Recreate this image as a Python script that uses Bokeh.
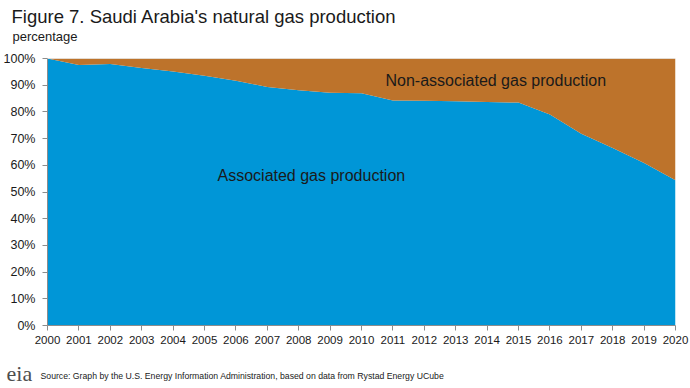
from bokeh.plotting import figure
from bokeh.models import (ColumnDataSource, Label, FixedTicker, PrintfTickFormatter,
                          Range1d, Span)
from bokeh.embed import file_html
from bokeh.resources import INLINE

# ---- data ----
years = [2000, 2001, 2002, 2003, 2004, 2005, 2006, 2007, 2008, 2009, 2010,
         2011, 2012, 2013, 2014, 2015, 2016, 2017, 2018, 2019, 2020]
associated = [100.0, 97.6, 97.9, 96.4, 95.1, 93.5, 91.7, 89.3, 88.1, 87.2, 87.0,
              84.3, 84.2, 84.0, 83.7, 83.5, 79.0, 71.8, 66.5, 60.9, 54.4]
non_associated = [0.0, 2.4, 2.1, 3.6, 4.9, 6.5, 8.3, 10.7, 11.9, 12.8, 13.0,
                  15.7, 15.8, 16.0, 16.3, 16.5, 21.0, 28.2, 33.5, 39.1, 45.6]
y_ticks = [0, 10, 20, 30, 40, 50, 60, 70, 80, 90, 100]
x_tick_labels = [str(y) for y in years]

BLUE = "#0096d7"
BROWN = "#bd732b"
FONT = "Liberation Sans"

source = ColumnDataSource(dict(year=years, associated=associated,
                               non_associated=non_associated))

W, H = 690, 388
X0, X1, Y0, Y1 = 47, 675, 325, 58   # frame in page pixels

p = figure(width=W, height=H, output_backend="svg", toolbar_location=None,
           x_range=Range1d(years[0], years[-1]), y_range=Range1d(0, 100),
           min_border_left=X0, min_border_right=W - X1, min_border_top=Y1,
           min_border_bottom=H - Y0, title=None)
p.outline_line_color = None
p.background_fill_color = "white"
p.border_fill_color = "white"
p.xgrid.visible = False
p.ygrid.visible = False

p.varea_stack(["associated", "non_associated"], x="year", color=[BLUE, BROWN],
              source=source)

p.add_layout(Span(location=100, dimension="width", line_color="#d9d9d9", line_width=1))

# axes
p.yaxis.ticker = FixedTicker(ticks=y_ticks)
p.yaxis.formatter = PrintfTickFormatter(format="%d%%")
p.xaxis.ticker = FixedTicker(ticks=years)
p.xaxis.major_label_overrides = {y: s for y, s in zip(years, x_tick_labels)}
for ax in (p.xaxis[0], p.yaxis[0]):
    ax.axis_line_color = "#8c8c8c"
    ax.major_tick_line_color = "#8c8c8c"
    ax.minor_tick_line_color = None
    ax.major_tick_in = 0
    ax.major_tick_out = 5
    ax.major_label_text_font = FONT
    ax.major_label_text_color = "#1a1a1a"
p.yaxis.major_label_text_font_size = "12.5px"
p.yaxis.major_label_standoff = 7
p.xaxis.major_label_text_font_size = "11.5px"
p.xaxis.major_label_standoff = 5

# page pixel -> data coordinates
def dx(px):
    return years[0] + (px - X0) * (years[-1] - years[0]) / (X1 - X0)
def dy(py):
    return (Y0 - py) * 100.0 / (Y0 - Y1)

def label(px, py, text, size, place="center", baseline="alphabetic", font=FONT,
          color="#1a1a1a"):
    p.add_layout(Label(x=dx(px), y=dy(py), text=text, text_font=font,
                       text_font_size=size, text_color=color, text_baseline=baseline,
                       text_align="left"), place)

label(217, 175, "Associated gas production", "16px", baseline="middle")
label(385, 80, "Non-associated gas production", "16px", baseline="middle")
label(11, 16, "Figure 7. Saudi Arabia's natural gas production", "18.5px", place="above")
label(12, 36, "percentage", "13px", place="above")
label(40, 375, "Source: Graph by the U.S. Energy Information Administration, based on data from Rystad Energy UCube",
      "8.7px", place="below")
label(6, 373, "eia", "22px", place="below", font="Liberation Serif", color="#4d4d4d")

open("out.html", "w").write(file_html(p, INLINE))
